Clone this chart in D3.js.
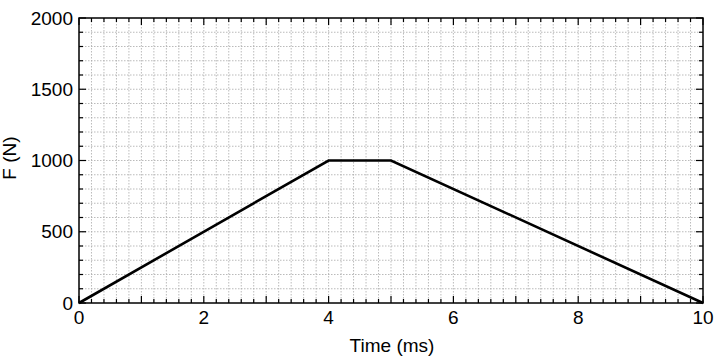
<!DOCTYPE html>
<html>
<head>
<meta charset="utf-8">
<script src="https://cdn.jsdelivr.net/npm/d3@7"></script>
<style>
  body { margin: 0; background: #fff; }
  text { font-family: "Liberation Sans", Arial, sans-serif; fill: #000; }
</style>
</head>
<body>
<svg id="chart" width="720" height="360"></svg>
<script>
// force pulse: time (ms) vs force (N)
const timeMs = [0, 4, 5, 10];
const forceN = [0, 1000, 1000, 0];
const xTickLabels = [0, 2, 4, 6, 8, 10];
const yTickLabels = [0, 500, 1000, 1500, 2000];

const svg = d3.select('#chart');
const margin = {top: 18, right: 17, bottom: 57, left: 79};
const width = +svg.attr('width') - margin.left - margin.right;
const height = +svg.attr('height') - margin.top - margin.bottom;
const g = svg.append('g').attr('transform', `translate(${margin.left},${margin.top})`);

const x = d3.scaleLinear().domain([0, 10]).range([0, width]);
const y = d3.scaleLinear().domain([0, 2000]).range([height, 0]);

const xMinor = d3.range(0, 10.0001, 0.2);
const yMinor = d3.range(0, 2000.1, 100);

// dotted grid
g.append('g')
    .selectAll('line')
    .data(xMinor.slice(1, -1))
    .join('line')
    .attr('x1', d => x(d)).attr('x2', d => x(d))
    .attr('y1', 0).attr('y2', height)
    .attr('stroke', '#aaa')
    .attr('stroke-width', 0.8)
    .attr('stroke-dasharray', '1.5,1.5');

g.append('g')
    .selectAll('line')
    .data(yMinor.slice(1, -1))
    .join('line')
    .attr('y1', d => y(d)).attr('y2', d => y(d))
    .attr('x1', 0).attr('x2', width)
    .attr('stroke', '#aaa')
    .attr('stroke-width', 0.8)
    .attr('stroke-dasharray', '1.5,1.5');

// inward ticks on all four sides
const tickLen = v => (Math.abs(v - Math.round(v)) < 1e-6 ? 7 : 4);
const yTickLen = v => (v % 500 === 0 ? 7 : 4);

const ticks = g.append('g').attr('stroke', '#000').attr('stroke-width', 1.2);
ticks.selectAll('.xb').data(xMinor).join('line')
    .attr('x1', d => x(d)).attr('x2', d => x(d))
    .attr('y1', height).attr('y2', d => height - tickLen(d));
ticks.selectAll('.xt').data(xMinor).join('line')
    .attr('x1', d => x(d)).attr('x2', d => x(d))
    .attr('y1', 0).attr('y2', d => tickLen(d));
ticks.selectAll('.yl').data(yMinor).join('line')
    .attr('y1', d => y(d)).attr('y2', d => y(d))
    .attr('x1', 0).attr('x2', d => yTickLen(d));
ticks.selectAll('.yr').data(yMinor).join('line')
    .attr('y1', d => y(d)).attr('y2', d => y(d))
    .attr('x1', width).attr('x2', d => width - yTickLen(d));

// frame
g.append('rect')
    .attr('width', width).attr('height', height)
    .attr('fill', 'none').attr('stroke', '#000').attr('stroke-width', 1.5);

// tick labels
g.append('g').selectAll('text').data(xTickLabels).join('text')
    .attr('x', d => x(d)).attr('y', height + 21)
    .attr('text-anchor', 'middle')
    .attr('font-size', 19)
    .text(d => d);

g.append('g').selectAll('text').data(yTickLabels).join('text')
    .attr('x', -6).attr('y', d => y(d) + 6.5)
    .attr('text-anchor', 'end')
    .attr('font-size', 19)
    .text(d => d);

// axis titles
svg.append('text')
    .attr('x', margin.left + width / 2 + 1).attr('y', 352)
    .attr('text-anchor', 'middle')
    .attr('font-size', 19)
    .text('Time (ms)');

svg.append('text')
    .attr('transform', `translate(16,158) rotate(-90)`)
    .attr('text-anchor', 'middle')
    .attr('font-size', 19)
    .text('F (N)');

// the force curve
const line = d3.line()
    .x((d, i) => x(timeMs[i]))
    .y(d => y(d));

g.append('path')
    .datum(forceN)
    .attr('fill', 'none')
    .attr('stroke', '#000')
    .attr('stroke-width', 2.6)
    .attr('stroke-linejoin', 'miter')
    .attr('d', line);
</script>
</body>
</html>
